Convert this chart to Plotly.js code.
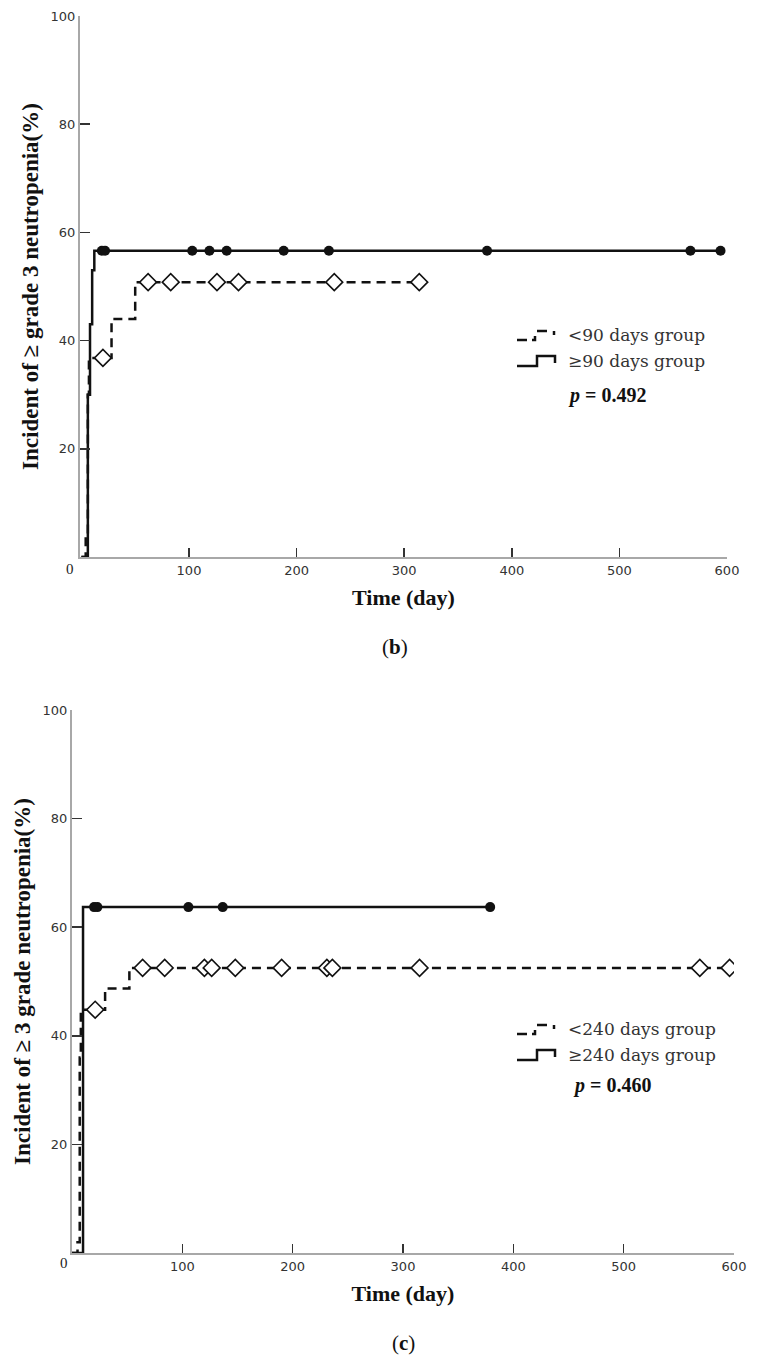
<!DOCTYPE html>
<html>
<head>
<meta charset="utf-8">
<script src="https://cdn.plot.ly/plotly-3.0.1.min.js"></script>
<style>html,body{margin:0;padding:0;background:#fff;}#chart{width:759px;height:1359px;}</style>
</head>
<body>
<div id="chart"></div>
<script>
// ---------- Data: panel (b) ----------
var b_lt90_time   = [0, 4, 6, 7, 28, 50, 314];
var b_lt90_value  = [0, 4, 30, 36.8, 44, 50.8, 50.8];
var b_lt90_cens_t = [20, 62, 83, 126, 146, 235, 314];
var b_lt90_cens_v = [36.8, 50.8, 50.8, 50.8, 50.8, 50.8, 50.8];

var b_ge90_time   = [0, 6, 8, 10, 12, 596];
var b_ge90_value  = [0, 30, 43, 53, 56.6, 56.6];
var b_ge90_cens_t = [19, 22, 103, 119, 135, 188, 230, 377, 566, 594];
var b_ge90_cens_v = [56.6, 56.6, 56.6, 56.6, 56.6, 56.6, 56.6, 56.6, 56.6, 56.6];

// ---------- Data: panel (c) ----------
var c_lt240_time   = [0, 5, 7, 8, 30, 52, 596];
var c_lt240_value  = [0, 2, 36, 44.8, 48.7, 52.5, 52.5];
var c_lt240_cens_t = [21, 64, 84, 120, 126.6, 148, 190, 231, 236, 315, 569, 596];
var c_lt240_cens_v = [44.8, 52.5, 52.5, 52.5, 52.5, 52.5, 52.5, 52.5, 52.5, 52.5, 52.5, 52.5];

var c_ge240_time   = [0, 10, 379];
var c_ge240_value  = [0, 63.7, 63.7];
var c_ge240_cens_t = [20, 23, 105.5, 136.6, 379];
var c_ge240_cens_v = [63.7, 63.7, 63.7, 63.7, 63.7];

// ---------- Labels ----------
var yTickVals = [20, 40, 60, 80, 100];
var xTickVals = [100, 200, 300, 400, 500, 600];
var b_legend = ["<90 days group", "≥90 days group"];
var c_legend = ["<240 days group", "≥240 days group"];
var b_p = "0.492", c_p = "0.460";
var b_ytitle = "Incident of ≥ grade 3 neutropenia(%)";
var c_ytitle = "Incident of ≥ 3 grade neutropenia(%)";
var xtitle = "Time (day)";

// ---------- Layout helpers (pixel -> paper) ----------
var W = 759, H = 1359;
function px(x){ return x / W; }
function py(y){ return 1 - y / H; }

var dashStyle = {color:'#111', width:2.5, dash:'9px,6px', shape:'hv'};
var solidStyle = {color:'#111', width:2.5, shape:'hv'};
var diamond = {symbol:'diamond', size:13, color:'#fff', line:{color:'#111', width:1.6}};
var dot = {symbol:'circle', size:10, color:'#111', line:{color:'#111', width:0}};

var traces = [
  {x:b_lt90_time, y:b_lt90_value, mode:'lines', line:dashStyle, xaxis:'x', yaxis:'y', name:b_legend[0]},
  {x:b_ge90_time, y:b_ge90_value, mode:'lines', line:solidStyle, xaxis:'x', yaxis:'y', name:b_legend[1]},
  {x:b_lt90_cens_t, y:b_lt90_cens_v, mode:'markers', marker:diamond, xaxis:'x', yaxis:'y', name:b_legend[0]+' censored'},
  {x:b_ge90_cens_t, y:b_ge90_cens_v, mode:'markers', marker:dot, xaxis:'x', yaxis:'y', name:b_legend[1]+' censored'},
  {x:c_lt240_time, y:c_lt240_value, mode:'lines', line:dashStyle, xaxis:'x2', yaxis:'y2', name:c_legend[0]},
  {x:c_ge240_time, y:c_ge240_value, mode:'lines', line:solidStyle, xaxis:'x2', yaxis:'y2', name:c_legend[1]},
  {x:c_lt240_cens_t, y:c_lt240_cens_v, mode:'markers', marker:diamond, xaxis:'x2', yaxis:'y2', name:c_legend[0]+' censored'},
  {x:c_ge240_cens_t, y:c_ge240_cens_v, mode:'markers', marker:dot, xaxis:'x2', yaxis:'y2', name:c_legend[1]+' censored'}
];

var tickFont = {family:'DejaVu Sans', size:13, color:'#333'};
var titleFontY = {family:'Liberation Serif', size:23, color:'#111', weight:'bold'};
var titleFontX = {family:'Liberation Serif', size:22, color:'#111', weight:'bold'};

function xAxis(domain, range, anchor){
  return {domain:domain, range:range, anchor:anchor, showgrid:false, zeroline:false,
    showline:true, linecolor:'#a8a8a8', linewidth:2,
    ticks:'inside', ticklen:9, tickwidth:1.5, tickcolor:'#333',
    tickvals:xTickVals, tickfont:tickFont,
    title:{text:'<b>'+xtitle+'</b>', font:titleFontX, standoff:13}};
}
function yAxis(domain, anchor, title){
  return {domain:domain, range:[0,100], anchor:anchor, showgrid:false, zeroline:false,
    showline:true, linecolor:'#a8a8a8', linewidth:2,
    ticks:'inside', ticklen:10, tickwidth:1.5, tickcolor:'#333',
    tickvals:yTickVals, tickfont:tickFont,
    title:{text:'<b>'+title+'</b>', font:titleFontY, standoff:6}};
}

var shapes = [];
function legendIcons(y1, y2){
  var l = {color:'#111', width:2.5};
  // dashed step icon (row 1)
  shapes.push({type:'path', xref:'paper', yref:'paper', line:l,
    path:'M'+px(517)+','+py(y1+5)+' L'+px(527)+','+py(y1+5)});
  shapes.push({type:'path', xref:'paper', yref:'paper', line:l,
    path:'M'+px(532)+','+py(y1+5)+' L'+px(535)+','+py(y1+5)+' L'+px(535)+','+py(y1+1)});
  shapes.push({type:'path', xref:'paper', yref:'paper', line:l,
    path:'M'+px(537)+','+py(y1-4)+' L'+px(547)+','+py(y1-4)});
  shapes.push({type:'path', xref:'paper', yref:'paper', line:l,
    path:'M'+px(554)+','+py(y1-4)+' L'+px(554)+','+py(y1)});
  // solid step icon (row 2)
  shapes.push({type:'path', xref:'paper', yref:'paper', line:l,
    path:'M'+px(517)+','+py(y2+5)+' L'+px(537)+','+py(y2+5)+' L'+px(537)+','+py(y2-5)+
         ' L'+px(555)+','+py(y2-5)+' L'+px(555)+','+py(y2+2)});
}
legendIcons(335, 361);
legendIcons(1029, 1055);

var legFont = {family:'DejaVu Serif', size:17, color:'#333'};
var pFont = {family:'Liberation Serif', size:20, color:'#111'};
function ann(x, y, text, font, xanchor){
  return {xref:'paper', yref:'paper', x:px(x), y:py(y), text:text, showarrow:false,
    xanchor:xanchor||'center', yanchor:'middle', font:font};
}
var annotations = [
  ann(566, 335, b_legend[0].replace('<','&lt;'), legFont, 'left'),
  ann(566, 361, b_legend[1], legFont, 'left'),
  ann(607, 396, '<b><i>p</i> = '+b_p+'</b>', pFont),
  ann(566, 1029, c_legend[0].replace('<','&lt;'), legFont, 'left'),
  ann(566, 1055, c_legend[1], legFont, 'left'),
  ann(612, 1085, '<b><i>p</i> = '+c_p+'</b>', pFont),
  ann(70, 569, '0', {family:'Liberation Serif', size:15, color:'#222'}),
  ann(64, 1263, '0', {family:'Liberation Serif', size:15, color:'#222'}),
  ann(395, 647, '(<b>b</b>)', {family:'Liberation Serif', size:21, color:'#111'}),
  ann(403, 1343, '(<b>c</b>)', {family:'Liberation Serif', size:21, color:'#111'})
];

var layout = {
  width:W, height:H, margin:{l:0, r:0, t:0, b:0},
  paper_bgcolor:'#fff', plot_bgcolor:'#fff', showlegend:false,
  xaxis: xAxis([px(80), px(727)], [-1.3, 600], 'y'),
  yaxis: yAxis([py(557), py(16)], 'x', b_ytitle),
  xaxis2: xAxis([px(72), px(734)], [0, 600], 'y2'),
  yaxis2: yAxis([py(1253), py(710)], 'x2', c_ytitle),
  shapes: shapes,
  annotations: annotations
};

Plotly.newPlot('chart', traces, layout, {displayModeBar:false, staticPlot:true});
</script>
</body>
</html>
